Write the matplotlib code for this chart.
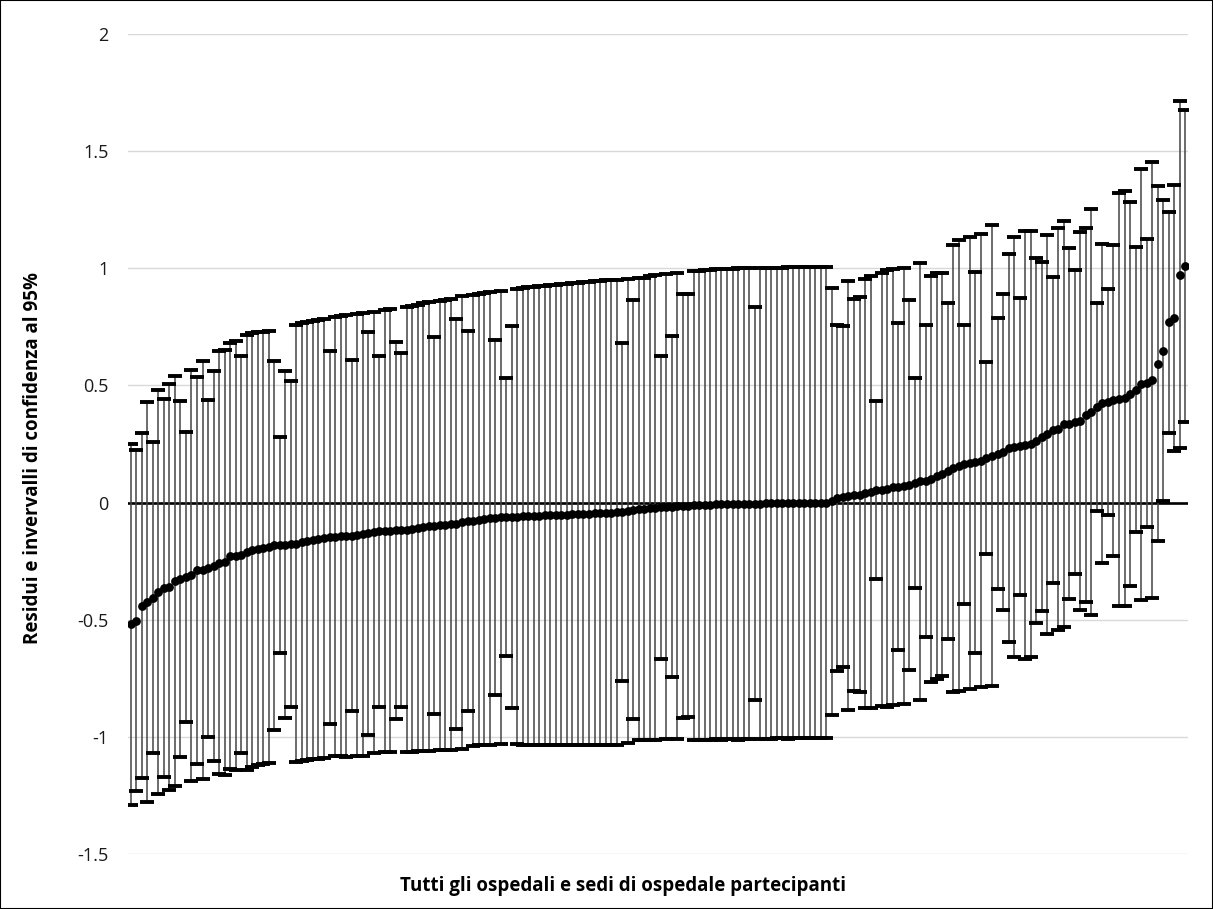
import numpy as np
import matplotlib
matplotlib.use("Agg")
import matplotlib.pyplot as plt
from matplotlib.patches import Rectangle

# Residui ordinati (uno per ospedale / sede)
residui = [
    -0.52, -0.505, -0.44, -0.425, -0.407, -0.382, -0.365, -0.36, -0.333, -0.326,
    -0.317, -0.311, -0.289, -0.286, -0.28, -0.272, -0.257, -0.255, -0.229, -0.226,
    -0.222, -0.212, -0.203, -0.198, -0.193, -0.189, -0.183, -0.181, -0.179, -0.178,
    -0.175, -0.17, -0.165, -0.16, -0.157, -0.152, -0.148, -0.146, -0.144, -0.142,
    -0.141, -0.138, -0.135, -0.132, -0.127, -0.123, -0.122, -0.12, -0.119, -0.118,
    -0.115, -0.112, -0.108, -0.105, -0.102, -0.099, -0.097, -0.095, -0.092, -0.09,
    -0.085, -0.08, -0.077, -0.073, -0.07, -0.067, -0.064, -0.063, -0.062, -0.061,
    -0.06, -0.059, -0.058, -0.057, -0.056, -0.055, -0.054, -0.053, -0.052, -0.051,
    -0.05, -0.049, -0.048, -0.047, -0.046, -0.045, -0.044, -0.043, -0.041, -0.04,
    -0.036, -0.031, -0.028, -0.026, -0.024, -0.022, -0.02, -0.018, -0.017, -0.015,
    -0.014, -0.013, -0.012, -0.011, -0.01, -0.009, -0.008, -0.008, -0.007, -0.006,
    -0.006, -0.005, -0.005, -0.004, -0.004, -0.003, -0.003, -0.002, -0.002, -0.002,
    -0.001, -0.001, -0.001, 0.0, 0.0, 0.0, 0.0, 0.005, 0.02, 0.025,
    0.03, 0.032, 0.034, 0.039, 0.046, 0.052, 0.055, 0.06, 0.065, 0.068,
    0.07, 0.075, 0.084, 0.09, 0.092, 0.10, 0.115, 0.12, 0.134, 0.146,
    0.158, 0.163, 0.169, 0.172, 0.179, 0.19, 0.20, 0.208, 0.215, 0.232,
    0.237, 0.241, 0.245, 0.25, 0.263, 0.282, 0.291, 0.311, 0.315, 0.334,
    0.337, 0.343, 0.348, 0.374, 0.386, 0.408, 0.423, 0.43, 0.436, 0.441,
    0.445, 0.463, 0.482, 0.504, 0.51, 0.523, 0.593, 0.649, 0.769, 0.788,
    0.973, 1.01,
]

# Limite superiore dell'intervallo di confidenza al 95% (simmetrico)
limite_superiore = [
    0.252, 0.223, 0.297, 0.428, 0.257, 0.482, 0.442, 0.506, 0.542, 0.435,
    0.301, 0.567, 0.537, 0.606, 0.439, 0.56, 0.645, 0.652, 0.681, 0.688,
    0.627, 0.716, 0.724, 0.726, 0.73, 0.733, 0.606, 0.279, 0.563, 0.517,
    0.759, 0.765, 0.77, 0.775, 0.78, 0.785, 0.648, 0.79, 0.795, 0.80,
    0.607, 0.805, 0.81, 0.726, 0.815, 0.627, 0.82, 0.825, 0.685, 0.638,
    0.835, 0.84, 0.845, 0.85, 0.855, 0.705, 0.86, 0.865, 0.87, 0.785,
    0.88, 0.731, 0.885, 0.89, 0.895, 0.90, 0.695, 0.905, 0.532, 0.755,
    0.91, 0.915, 0.92, 0.922, 0.924, 0.926, 0.928, 0.93, 0.932, 0.934,
    0.936, 0.938, 0.94, 0.942, 0.944, 0.946, 0.948, 0.95, 0.952, 0.681,
    0.955, 0.863, 0.958, 0.96, 0.965, 0.97, 0.627, 0.975, 0.709, 0.98,
    0.89, 0.89, 0.988, 0.99, 0.992, 0.994, 0.995, 0.996, 0.997, 0.998,
    1.0, 1.0, 1.001, 0.834, 1.002, 1.002, 1.003, 1.003, 1.003, 1.004,
    1.004, 1.004, 1.005, 1.005, 1.005, 1.005, 1.005, 0.915, 0.759, 0.752,
    0.944, 0.869, 0.877, 0.954, 0.968, 0.432, 0.98, 0.994, 0.995, 0.766,
    1.0, 0.866, 0.532, 1.022, 0.759, 0.965, 0.982, 0.982, 0.852, 1.10,
    1.119, 0.759, 1.133, 0.986, 1.147, 0.598, 1.185, 0.786, 0.89, 1.06,
    1.134, 0.875, 1.159, 1.159, 1.042, 1.025, 1.141, 0.964, 1.172, 1.201,
    1.085, 0.992, 1.153, 1.172, 1.251, 0.853, 1.103, 0.912, 1.098, 1.322,
    1.332, 1.283, 1.09, 1.422, 1.125, 1.454, 1.35, 1.29, 1.24, 1.355,
    1.715, 1.677,
]

yticks = [-1.5, -1.0, -0.5, 0.0, 0.5, 1.0, 1.5, 2.0]
ytick_labels = ["-1.5", "-1", "-0.5", "0", "0.5", "1", "1.5", "2"]

ylabel_txt = "Residui e invervalli di confidenza al 95%"
xlabel_txt = "Tutti gli ospedali e sedi di ospedale partecipanti"

plt.rcParams['font.family'] = ['Open Sans', 'DejaVu Sans']

res = np.array(residui)
sup = np.array(limite_superiore)
semi = sup - res
x = np.arange(len(res))

W, H = 1213, 909
fig = plt.figure(figsize=(W / 100, H / 100), dpi=100)
ax = fig.add_axes([128 / W, 55 / H, 1060 / W, 820 / H])

ax.set_xlim(-0.5, len(res) - 0.5)
ax.set_ylim(-1.5, 2.0)
ax.set_yticks(yticks)
ax.set_yticklabels(ytick_labels)
ax.set_xticks([])
ax.tick_params(axis='y', length=0, pad=14, labelsize=13, labelcolor='#1a1a1a')
for s in ax.spines.values():
    s.set_visible(False)
ax.yaxis.grid(True, color='#d9d9d9', linewidth=1.0, zorder=0)
ax.set_axisbelow(True)

ax.axhline(0, color='black', linewidth=1.9, zorder=1.5)

eb = ax.errorbar(x, res, yerr=semi, fmt='o', color='black', markersize=5.3,
                 ecolor='#444444', elinewidth=1.1, capsize=5.0, capthick=2.8,
                 zorder=3)
for cap in eb[1]:
    cap.set_markeredgecolor('black')
    cap.set_color('black')

fig.text(33 / W, 1 - 458 / H, ylabel_txt, rotation=90, ha='center', va='center',
         fontsize=13.5, fontweight='bold', color='black')
fig.text(623 / W, 1 - 886 / H, xlabel_txt, ha='center', va='center',
         fontsize=13.5, fontweight='bold', color='black')

fig.add_artist(Rectangle((0, 0), 1, 1, transform=fig.transFigure, fill=False,
                         edgecolor='black', linewidth=1.5))

fig.savefig("out.png", dpi=100)
